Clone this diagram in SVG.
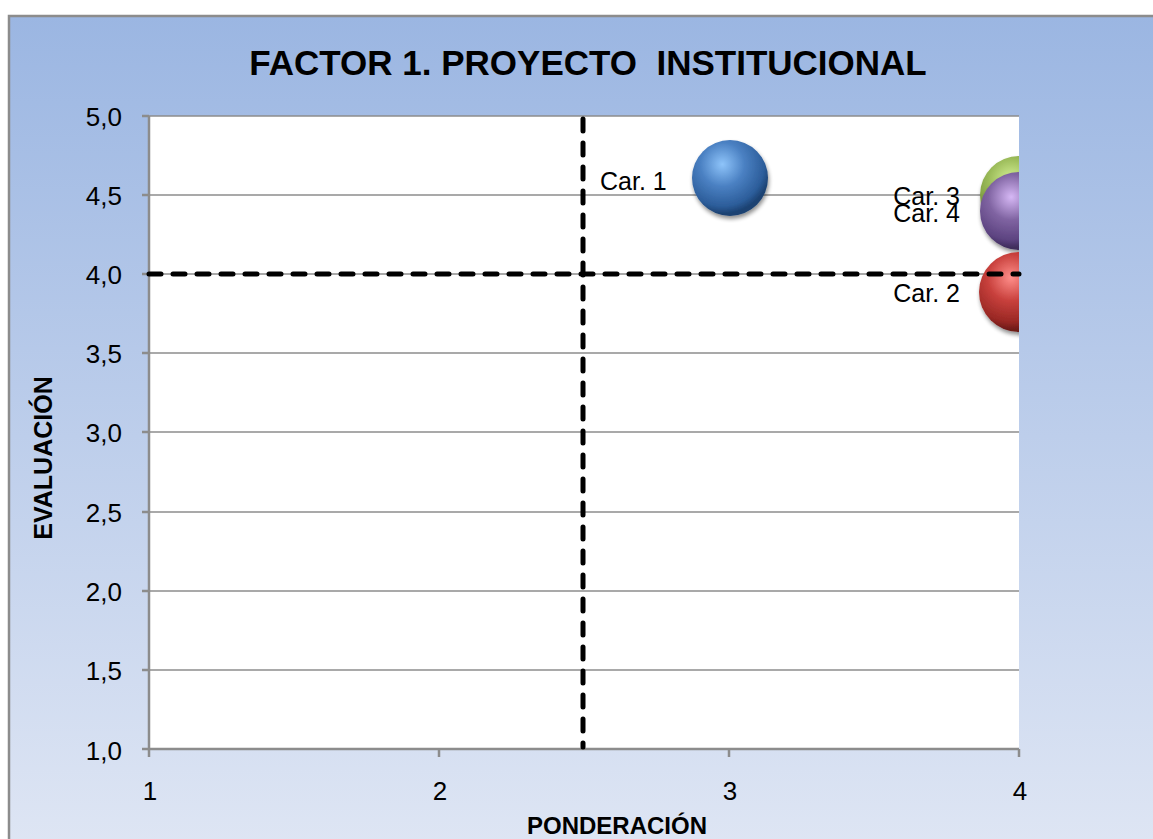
<svg xmlns="http://www.w3.org/2000/svg" width="1153" height="839" viewBox="0 0 1153 839">
<defs>
<linearGradient id="bg" x1="0" y1="0" x2="0" y2="1">
<stop offset="0" stop-color="#9bb6e2"/>
<stop offset="1" stop-color="#dfe6f4"/>
</linearGradient>
<radialGradient id="gBlue" cx="0.4" cy="0.32" r="0.65">
<stop offset="0" stop-color="#8ec4fa"/>
<stop offset="0.45" stop-color="#4a80c2"/>
<stop offset="0.85" stop-color="#2c5d9a"/>
<stop offset="1" stop-color="#1c4272"/>
</radialGradient>
<radialGradient id="gRed" cx="0.4" cy="0.32" r="0.65">
<stop offset="0" stop-color="#ff8e8a"/>
<stop offset="0.45" stop-color="#c8403c"/>
<stop offset="0.85" stop-color="#992824"/>
<stop offset="1" stop-color="#6e1a18"/>
</radialGradient>
<radialGradient id="gGreen" cx="0.4" cy="0.32" r="0.65">
<stop offset="0" stop-color="#d9f59a"/>
<stop offset="0.45" stop-color="#9bbb59"/>
<stop offset="1" stop-color="#5e7a2a"/>
</radialGradient>
<radialGradient id="gPurple" cx="0.4" cy="0.32" r="0.65">
<stop offset="0" stop-color="#d6b8f5"/>
<stop offset="0.45" stop-color="#8064a2"/>
<stop offset="0.85" stop-color="#5c4380"/>
<stop offset="1" stop-color="#3f2d5c"/>
</radialGradient>
<filter id="sh" x="-30%" y="-30%" width="160%" height="160%">
<feGaussianBlur in="SourceAlpha" stdDeviation="2"/>
<feOffset dx="1" dy="3" result="o"/>
<feComponentTransfer><feFuncA type="linear" slope="0.45"/></feComponentTransfer>
<feMerge><feMergeNode/><feMergeNode in="SourceGraphic"/></feMerge>
</filter>
<clipPath id="plot"><rect x="149" y="100" width="870" height="649"/></clipPath>
</defs>
<style>
.t{font-family:"Liberation Sans",Arial,sans-serif;fill:#000}
.tick{font-size:26px}
.lab{font-size:25px}
.grid{stroke:#8c8c8c;stroke-width:1.5}
.axis{stroke:#8c8c8c;stroke-width:2.5;fill:none}
.dash{stroke:#000;stroke-width:5;stroke-dasharray:12 12;stroke-linecap:round;fill:none}
</style>
<rect x="9" y="16" width="1160" height="840" fill="url(#bg)" stroke="#8c8c8c" stroke-width="2.5"/>
<text class="t" x="588" y="75" text-anchor="middle" font-size="35" font-weight="bold">FACTOR 1. PROYECTO&#160; INSTITUCIONAL</text>
<rect x="149" y="116" width="870" height="633" fill="#fff"/>
<g id="grid">
<line class="grid" x1="149" y1="116" x2="1019" y2="116"/>
<line class="grid" x1="149" y1="195" x2="1019" y2="195"/>
<line class="grid" x1="149" y1="274" x2="1019" y2="274"/>
<line class="grid" x1="149" y1="353" x2="1019" y2="353"/>
<line class="grid" x1="149" y1="432" x2="1019" y2="432"/>
<line class="grid" x1="149" y1="512" x2="1019" y2="512"/>
<line class="grid" x1="149" y1="591" x2="1019" y2="591"/>
<line class="grid" x1="149" y1="670" x2="1019" y2="670"/>
</g>
<g id="axes">
<path class="axis" d="M149 116 V749 H1019"/>
<path class="axis" d="M142 116 H149 M142 195 H149 M142 274 H149 M142 353 H149 M142 432 H149 M142 512 H149 M142 591 H149 M142 670 H149 M142 749 H149"/>
<path class="axis" d="M149 749 V757 M439 749 V757 M729 749 V757 M1019 749 V757"/>
</g>
<g id="ylabels" class="t tick" text-anchor="end">
<text x="122" y="126">5,0</text>
<text x="122" y="205">4,5</text>
<text x="122" y="284">4,0</text>
<text x="122" y="363">3,5</text>
<text x="122" y="442">3,0</text>
<text x="122" y="522">2,5</text>
<text x="122" y="601">2,0</text>
<text x="122" y="680">1,5</text>
<text x="122" y="760">1,0</text>
</g>
<g id="xlabels" class="t tick" text-anchor="middle">
<text x="150" y="800">1</text>
<text x="440" y="800">2</text>
<text x="730" y="800">3</text>
<text x="1020" y="800">4</text>
</g>
<text class="t" x="617" y="834" text-anchor="middle" font-size="24" font-weight="bold">PONDERACIÓN</text>
<text class="t" transform="translate(52 458) rotate(-90)" text-anchor="middle" font-size="25" font-weight="bold">EVALUACIÓN</text>
<g id="bubbles" clip-path="url(#plot)">
<g id="car1"><circle cx="730" cy="178" r="38" fill="url(#gBlue)" filter="url(#sh)"/></g>
<g id="car3"><circle cx="1019" cy="195" r="39" fill="url(#gGreen)" filter="url(#sh)"/></g>
<g id="car4"><circle cx="1019" cy="211" r="39" fill="url(#gPurple)" filter="url(#sh)"/></g>
<g id="car2"><circle cx="1019" cy="292" r="40" fill="url(#gRed)" filter="url(#sh)"/></g>
</g>
<g id="connectors">
<line class="dash" x1="149" y1="274" x2="1019" y2="274"/>
<line class="dash" x1="583" y1="119" x2="583" y2="747"/>
</g>
<g id="labels" class="t lab">
<text x="600" y="190">Car. 1</text>
<text x="960" y="205" text-anchor="end">Car. 3</text>
<text x="960" y="222" text-anchor="end">Car. 4</text>
<text x="960" y="302" text-anchor="end">Car. 2</text>
</g>
</svg>
